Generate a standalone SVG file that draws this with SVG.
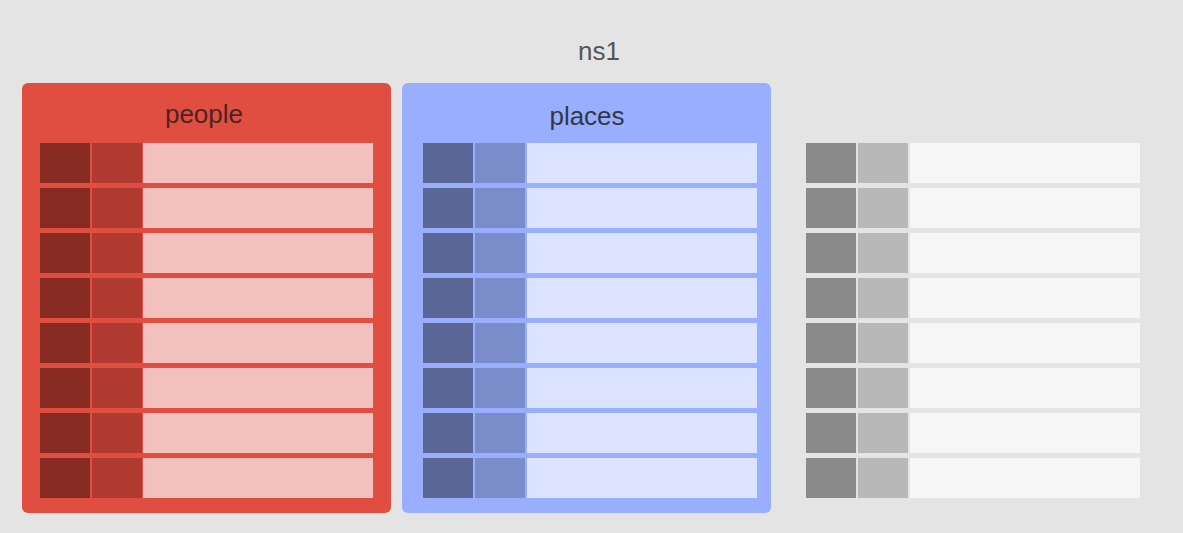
<svg xmlns="http://www.w3.org/2000/svg" width="1183" height="533" viewBox="0 0 1183 533">
<style>
text{font-family:"Liberation Sans",Arial,sans-serif;font-size:26px;text-anchor:middle}
.pc1{fill:#862A22}.pc2{fill:#B03A30}.pc3{fill:#F2C1BD}
.lc1{fill:#5A6796}.lc2{fill:#7A8CC9}.lc3{fill:#DCE3FF}
.gc1{fill:#8A8A8A}.gc2{fill:#B8B8B8}.gc3{fill:#F6F6F6}
</style>
<defs>
<g id="prow"><rect class="pc1" x="40" y="0" width="50" height="40"/><rect class="pc2" x="92" y="0" width="50" height="40"/><rect class="pc3" x="143" y="0" width="230" height="40"/></g>
<g id="lrow"><rect class="lc1" x="423" y="0" width="50" height="40"/><rect class="lc2" x="475" y="0" width="50" height="40"/><rect class="lc3" x="527" y="0" width="230" height="40"/></g>
<g id="grow"><rect class="gc1" x="806" y="0" width="50" height="40"/><rect class="gc2" x="858" y="0" width="50" height="40"/><rect class="gc3" x="910" y="0" width="230" height="40"/></g>
</defs>
<rect width="1183" height="533" fill="#E4E4E4"/>
<text x="599" y="60" fill="#555">ns1</text>
<g id="people">
<rect x="22" y="83" width="369" height="430" rx="6" fill="#E04E41"/>
<text x="204" y="123" fill="#4A2522">people</text>
<use href="#prow" y="143"/><use href="#prow" y="188"/><use href="#prow" y="233"/><use href="#prow" y="278"/>
<use href="#prow" y="323"/><use href="#prow" y="368"/><use href="#prow" y="413"/><use href="#prow" y="458"/>
</g>
<g id="places">
<rect x="402" y="83" width="369" height="430" rx="6" fill="#99AEFF"/>
<text x="587" y="125" fill="#333844">places</text>
<use href="#lrow" y="143"/><use href="#lrow" y="188"/><use href="#lrow" y="233"/><use href="#lrow" y="278"/>
<use href="#lrow" y="323"/><use href="#lrow" y="368"/><use href="#lrow" y="413"/><use href="#lrow" y="458"/>
</g>
<g id="unnamed">
<use href="#grow" y="143"/><use href="#grow" y="188"/><use href="#grow" y="233"/><use href="#grow" y="278"/>
<use href="#grow" y="323"/><use href="#grow" y="368"/><use href="#grow" y="413"/><use href="#grow" y="458"/>
</g>
<g id="connectors"/>
</svg>
